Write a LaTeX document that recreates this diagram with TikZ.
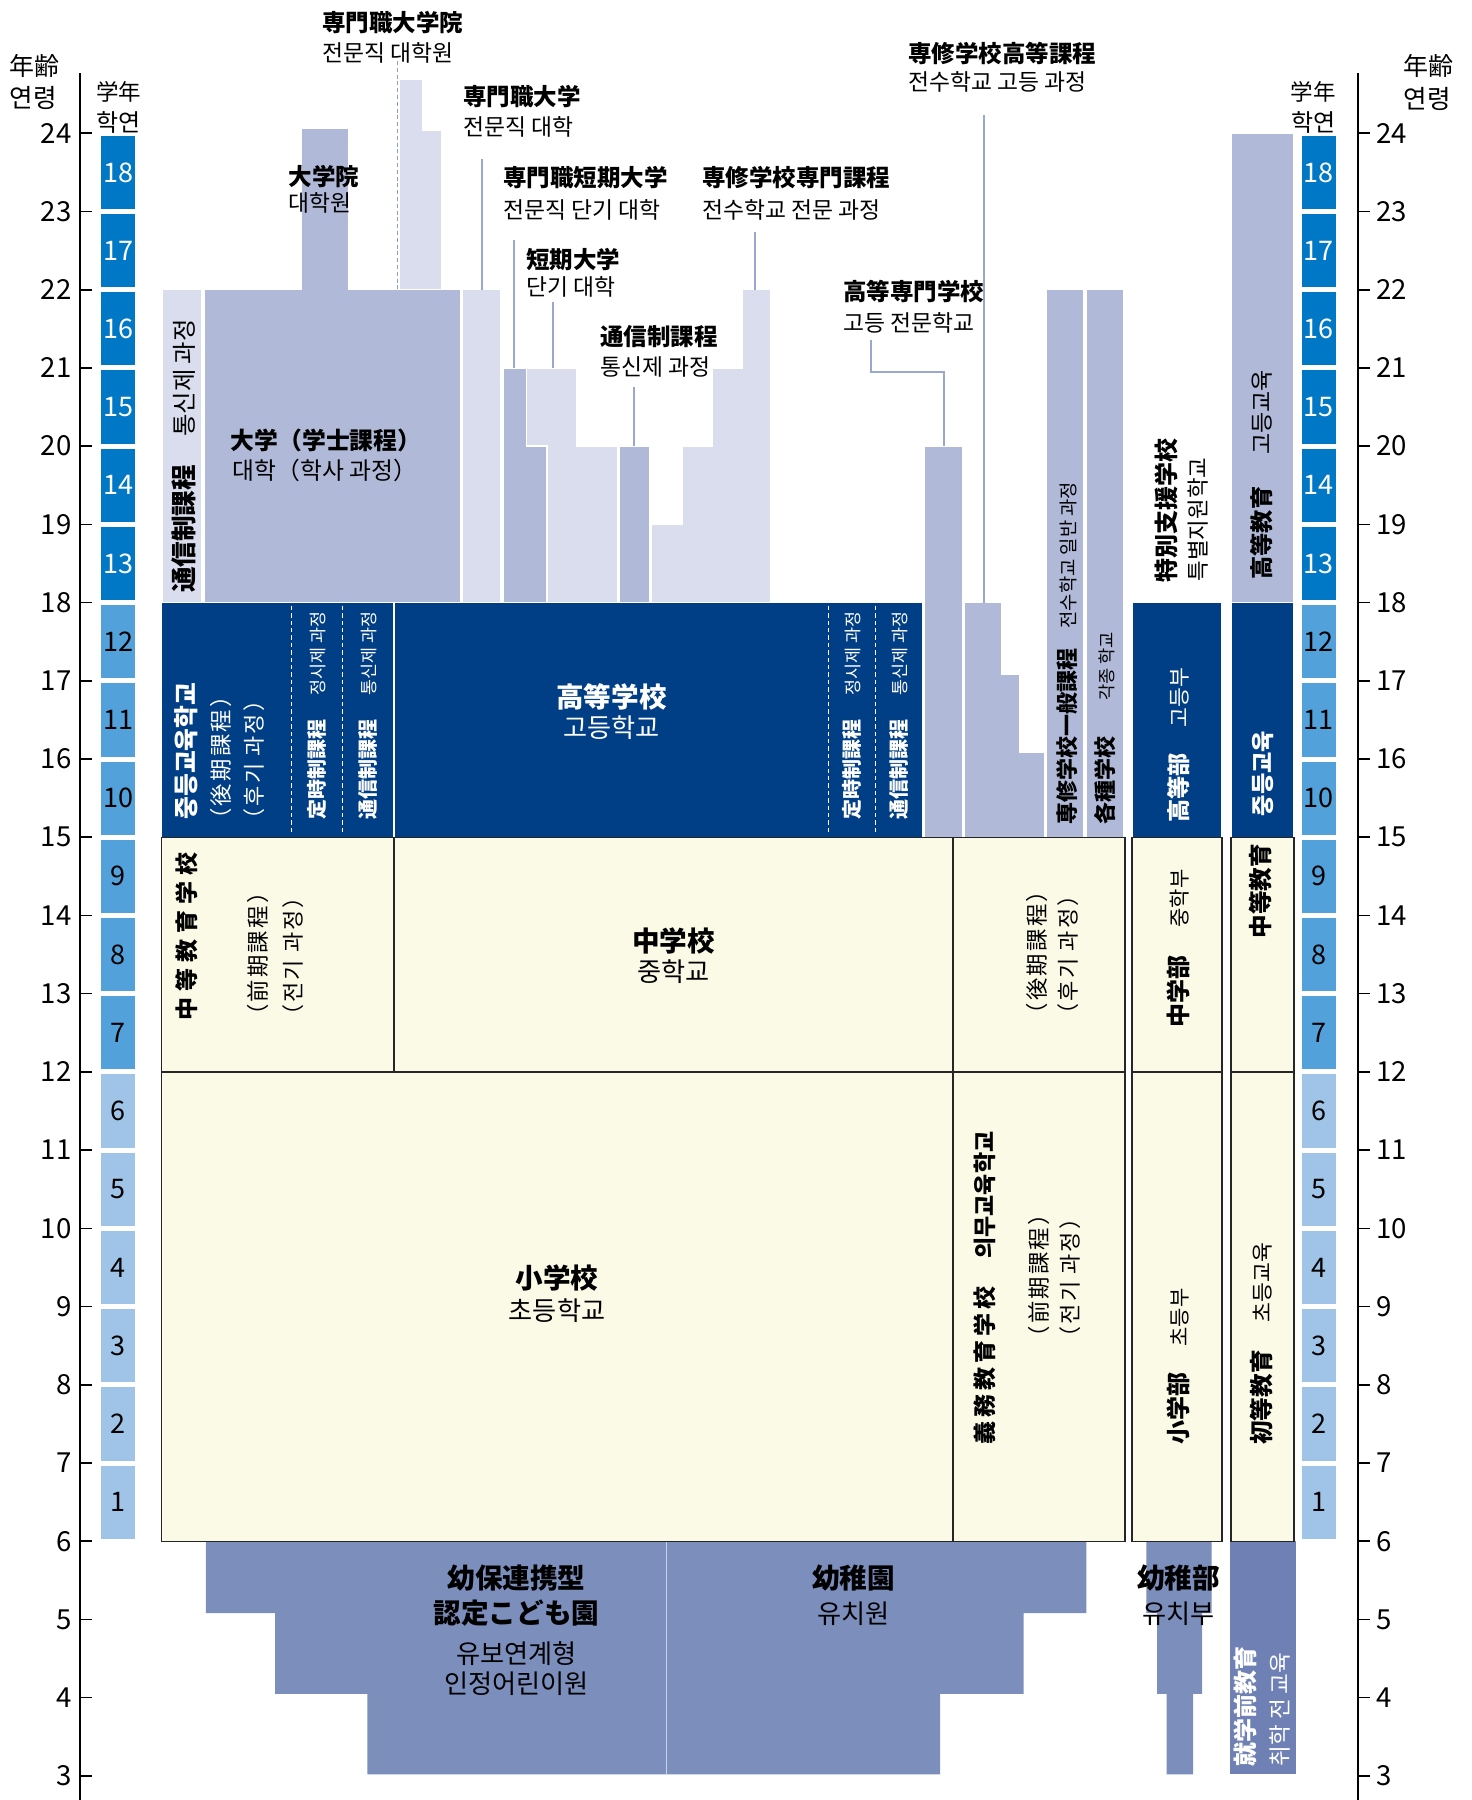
\documentclass[tikz,border=0pt]{standalone}
\usepackage{fontspec}
\setmainfont{Noto Sans CJK JP}
\newfontfamily\kr{Noto Sans CJK KR}
\newcommand\myfs[1]{\fontsize{#1}{#1}\selectfont}
\newcommand\js{\kern1.1pt}
\newcommand\ks{\kern1.1pt}
\definecolor{gdark}{HTML}{0078C6}
\definecolor{gmid}{HTML}{52A1DA}
\definecolor{glight}{HTML}{9FC4E8}
\definecolor{lav}{HTML}{D9DDEE}
\definecolor{lavm}{HTML}{B0B9D7}
\definecolor{navy}{HTML}{003E85}
\definecolor{cream}{HTML}{FBFAE7}
\definecolor{pre}{HTML}{7B8EBC}
\definecolor{pred}{HTML}{6F81B4}
\definecolor{lead}{HTML}{9AA7CF}
\definecolor{dashc}{HTML}{8C9CCC}
\begin{document}
\begin{tikzpicture}[x=0.5pt,y=39.11pt,
  every node/.style={inner sep=0pt},
  lv/.style={fill=lav,draw=white,line width=0.75pt},
  lm/.style={fill=lavm,draw=white,line width=0.75pt},
  nv/.style={fill=navy,draw=white,line width=0.6pt},
  yb/.style={fill=cream,draw=black!85,line width=0.65pt},
  wd/.style={draw=white,line width=0.7pt,dash pattern=on 2.2pt off 1.5pt},
  ld/.style={draw=lead,line width=0.9pt},
  tk/.style={line width=0.8pt},
  hl/.style={anchor=west},
  rl/.style={rotate=90,anchor=west},
  bj/.style={font=\bfseries\myfs{11.75pt}},
  kj/.style={font=\kr\myfs{11.4pt}},
  bigb/.style={font=\bfseries\myfs{13.8pt}},
  bigk/.style={font=\kr\myfs{13.1pt}},
  pj/.style={font=\myfs{11.2pt}},
  pk/.style={font=\kr\myfs{11pt}},
]
\useasboundingbox (0,2.692) rectangle (1472,25.704);

% ---------- axes ----------
\draw[line width=1pt] (80,24.77) -- (80,2.692);
\draw[line width=1pt] (1358,24.77) -- (1358,2.692);
\foreach \a in {3,...,24}{
  \draw[tk] (80,\a) -- (92,\a);
  \draw[tk] (1358,\a) -- (1370,\a);
  \node[anchor=east,font=\myfs{13.8pt}] (al\a) at (72,\a) {\a};
  \node[anchor=west,font=\myfs{13.8pt}] (ar\a) at (1376,\a) {\a};
}
\node[hl,font=\myfs{12.5pt}] (agel) at (9.3,24.863) {年齢};
\node[hl,font=\kr\myfs{12.8pt}] (agelk) at (9.3,24.454) {연령};
\node[hl,font=\myfs{11.25pt}] (grl) at (96,24.532) {学年};
\node[hl,font=\kr\myfs{12pt}] (grlk) at (96,24.138) {학연};
\node[hl,font=\myfs{12.5pt}] (ager) at (1403.5,24.863) {年齢};
\node[hl,font=\kr\myfs{12.8pt}] (agerk) at (1403.5,24.438) {연령};
\node[anchor=east,font=\myfs{11.25pt}] (grr) at (1336,24.532) {学年};
\node[anchor=east,font=\kr\myfs{12pt}] (grrk) at (1336,24.138) {학연};

% ---------- grade bars ----------
\foreach \g/\c/\t in {1/glight/black,2/glight/black,3/glight/black,4/glight/black,5/glight/black,6/glight/black,
  7/gmid/black,8/gmid/black,9/gmid/black,10/gmid/black,11/gmid/black,12/gmid/black,
  13/gdark/white,14/gdark/white,15/gdark/white,16/gdark/white,17/gdark/white,18/gdark/white}{
  \fill[\c] (101,\g+5.032) rectangle (135,\g+5.968);
  \fill[\c] (1301.7,\g+5.032) rectangle (1336,\g+5.968);
  \node[font=\myfs{13.5pt},text=\t] (gl\g) at (118,\g+5.5) {\g};
  \node[font=\myfs{13.5pt},text=\t] (gr\g) at (1318.9,\g+5.5) {\g};
}

% ---------- higher education ----------
\filldraw[lv] (162.4,18) rectangle (201.8,22);
\filldraw[lm] (203.9,18) -- (203.9,22) -- (301.7,22) -- (301.7,24.07) -- (349,24.07) -- (349,22) -- (460.9,22) -- (460.9,18) -- cycle;
\filldraw[lv] (399,22) -- (399,24.69) -- (422.7,24.69) -- (422.7,24.04) -- (441.7,24.04) -- (441.7,22) -- cycle;
\filldraw[lv] (462.7,18) rectangle (501,22);
\filldraw[lm] (502.8,18) -- (502.8,21) -- (526.4,21) -- (526.4,20) -- (547.2,20) -- (547.2,18) -- cycle;
\filldraw[lv] (526.4,21) -- (577,21) -- (577,20) -- (618,20) -- (618,18) -- (547.2,18) -- (547.2,20) -- (526.4,20) -- cycle;
\filldraw[lm] (619,18) rectangle (650,20);
\filldraw[lv] (651.7,18) -- (651.7,19) -- (682,19) -- (682,20) -- (712,20) -- (712,21) -- (742,21) -- (742,22) -- (771,22) -- (771,18) -- cycle;
\filldraw[lm] (924,15) rectangle (963,20);
\filldraw[lm] (964.5,15) -- (964.5,18) -- (1001.4,18) -- (1001.4,17.08) -- (1019.7,17.08) -- (1019.7,16.09) -- (1045.2,16.09) -- (1045.2,15) -- cycle;
\filldraw[lm] (1046,15) rectangle (1084,22);
\filldraw[lm] (1086,15) rectangle (1124,22);
\filldraw[lm] (1231,18) rectangle (1293.5,24);

\coordinate (dsa) at (397.3,24.924);
\coordinate (dsb) at (397.3,22);
\draw[dashc,line width=0.75pt,dash pattern=on 2pt off 1.4pt] (dsa) -- (dsb);

% ---------- upper secondary (navy) ----------
\filldraw[nv] (161.2,15) rectangle (393.9,18);
\filldraw[nv] (393.9,15) rectangle (922.7,18);
\filldraw[nv] (1132,15) rectangle (1222,18);
\filldraw[nv] (1231,15) rectangle (1293.5,18);
\foreach \xx in {291.3,342.3,828.6,875.5}{
  \draw[wd] (\xx,17.96) -- (\xx,15.07);
}

% ---------- pre-school ----------
\fill[pre] (205.8,6) -- (666.5,6) -- (666.5,3.02) -- (367.4,3.02) -- (367.4,4.05) -- (275,4.05) -- (275,5.08) -- (205.8,5.08) -- cycle;
\fill[pre] (666.5,6) -- (1086.3,6) -- (1086.3,5.08) -- (1023.7,5.08) -- (1023.7,4.05) -- (940.2,4.05) -- (940.2,3.02) -- (666.5,3.02) -- cycle;
\draw[white!60!pre,line width=0.6pt] (666.5,5.99) -- (666.5,3.02);
\fill[pre] (1146.3,6) -- (1211.5,6) -- (1211.5,5.08) -- (1202,5.08) -- (1202,4.05) -- (1193,4.05) -- (1193,3.02) -- (1166.5,3.02) -- (1166.5,4.05) -- (1157,4.05) -- (1157,5.08) -- (1146.3,5.08) -- cycle;
\fill[pred] (1229.5,3.02) rectangle (1296,6);

% ---------- compulsory (cream) ----------
\filldraw[yb] (161.5,12) rectangle (394,15);
\filldraw[yb] (394,12) rectangle (953,15);
\filldraw[yb] (161.5,6) rectangle (953,12);
\filldraw[yb] (953,12) rectangle (1125,15);
\filldraw[yb] (953,6) rectangle (1125,12);
\filldraw[yb] (1132,12) rectangle (1222,15);
\filldraw[yb] (1132,6) rectangle (1222,12);
\filldraw[yb] (1231,12) rectangle (1294,15);
\filldraw[yb] (1231,6) rectangle (1294,12);

% ---------- leaders ----------
\coordinate (a1) at (482,23.668);   \coordinate (b1) at (482,22);
\coordinate (a2) at (514.3,22.636); \coordinate (b2) at (514.3,21);
\coordinate (a3) at (553.3,21.847); \coordinate (b3) at (553.3,21);
\coordinate (a4) at (634.3,20.753); \coordinate (b4) at (634.3,20);
\coordinate (a5) at (755.2,22.734); \coordinate (b5) at (755.2,22);
\coordinate (a6) at (870.8,21.357); \coordinate (b6) at (943.7,20);
\coordinate (a7) at (984.3,24.234); \coordinate (b7) at (984.3,18);
\draw[ld] (a1) -- (b1);
\draw[ld] (a2) -- (b2);
\draw[ld] (a3) -- (b3);
\draw[ld] (a4) -- (b4);
\draw[ld] (a5) -- (b5);
\draw[ld] (a6) |- (943.7,20.952) -- (b6);
\draw[ld] (a7) -- (b7);

% ---------- top labels ----------
\node[hl,bj] (n1) at (321.7,25.416) {専門職大学院};
\node[hl,kj] (n1k) at (321.7,25.026) {전문직 대학원};
\node[hl,bj] (n2) at (288.3,23.445) {大学院};
\node[hl,kj] (n2k) at (288.3,23.109) {대학원};
\node[hl,bj] (n3) at (462.7,24.464) {専門職大学};
\node[hl,kj] (n3k) at (462.7,24.080) {전문직 대학};
\node[hl,bj] (n4) at (502.7,23.428) {専門職短期大学};
\node[hl,kj] (n4k) at (502.7,23.019) {전문직 단기 대학};
\node[hl,bj] (n5) at (525.7,22.389) {短期大学};
\node[hl,kj] (n5k) at (525.7,22.039) {단기 대학};
\node[hl,bj] (n6) at (701.7,23.428) {専修学校専門課程};
\node[hl,kj] (n6k) at (701.7,23.019) {전수학교 전문 과정};
\node[hl,bj] (n7) at (600,21.400) {通信制課程};
\node[hl,kj] (n7k) at (600,21.016) {통신제 과정};
\node[hl,bj] (n8) at (843,21.975) {高等専門学校};
\node[hl,kj] (n8k) at (843,21.581) {고등 전문학교};
\node[hl,bj] (n9) at (908,25.017) {専修学校高等課程};
\node[hl,kj] (n9k) at (908,24.660) {전수학교 고등 과정};
\node[font=\bfseries\myfs{11.9pt}] (n10) at (326,20.069) {大学（学士課程）};
\node[font=\kr\myfs{11.9pt}] (n10k) at (325,19.695) {대학（학사 과정）};

% ---------- big horizontal labels ----------
\node[bigb,text=white] (hs) at (611.5,16.797) {高等学校};
\node[bigk,text=white] (hsk) at (611.5,16.403) {고등학교};
\node[bigb] (js) at (673.5,13.68) {中学校};
\node[bigk] (jsk) at (673.5,13.28) {중학교};
\node[bigb] (es) at (557,9.366) {小学校};
\node[bigk] (esk) at (557,8.944) {초등학교};
\node[bigb] (kc1) at (516.5,5.526) {幼保連携型};
\node[bigb] (kc2) at (516.5,5.079) {認定こども園};
\node[bigk] (kc3) at (516.5,4.558) {유보연계형};
\node[bigk] (kc4) at (516.5,4.177) {인정어린이원};
\node[bigb] (kg) at (853.6,5.526) {幼稚園};
\node[bigk] (kgk) at (853.6,5.079) {유치원};
\node[bigb] (kd) at (1178.7,5.526) {幼稚部};
\node[bigk] (kdk) at (1178.7,5.079) {유치부};

% ---------- rotated labels ----------
\node[rl] (r1) at (184,18.12) {{\bfseries\myfs{12.8pt}通信制課程}\hspace{14pt}{\kr\myfs{12.2pt}통신제 과정}};
\node[rl,text=white,font=\kr\bfseries\myfs{12.4pt}] (r2) at (185.7,15.221) {중등교육학교};
\node[rl,text=white,pj] (r3) at (221.4,15.08) {（\js 後\js 期\js 課\js 程\js ）};
\node[rl,text=white,pk] (r4) at (254.6,15.08) {（\ks 후\ks 기\ks{} 과\ks 정\ks ）};
\node[rl,text=white] (r5) at (316.8,15.221) {{\bfseries\myfs{10pt}定時制課程}\hspace{12pt}{\kr\myfs{8.7pt}정시제 과정}};
\node[rl,text=white] (r6) at (368,15.221) {{\bfseries\myfs{10pt}通信制課程}\hspace{12pt}{\kr\myfs{8.7pt}통신제 과정}};
\node[rl,text=white] (r7) at (852,15.221) {{\bfseries\myfs{10pt}定時制課程}\hspace{12pt}{\kr\myfs{8.7pt}정시제 과정}};
\node[rl,text=white] (r8) at (899,15.221) {{\bfseries\myfs{10pt}通信制課程}\hspace{12pt}{\kr\myfs{8.7pt}통신제 과정}};
\node[rl] (r9) at (1066.9,15.157) {{\bfseries\myfs{11pt}専修学校一般課程}\hspace{10pt}{\kr\myfs{9.4pt}전수학교 일반 과정}};
\node[rl] (r10) at (1105.2,15.157) {{\bfseries\myfs{11pt}各種学校}\hspace{18pt}{\kr\myfs{8.8pt}각종 학교}};
\node[rl,font=\bfseries\myfs{12pt}] (r11) at (1166.7,18.247) {特別支援学校};
\node[rl,font=\kr\myfs{11.2pt}] (r12) at (1198.3,18.267) {특별지원학교};
\node[rl] (r13) at (1261.7,18.289) {{\bfseries\myfs{11.6pt}高等教育}\hspace{16pt}{\kr\myfs{11.5pt}고등교육}};
\node[rl,text=white] (r14) at (1178.2,15.179) {{\bfseries\myfs{11.6pt}高等部}\hspace{13pt}{\kr\myfs{10.8pt}고등부}};
\node[rl,text=white,font=\kr\bfseries\myfs{11.6pt}] (r15) at (1263,15.263) {중등교육};
\node[rl,font=\bfseries\myfs{11.5pt}] (r16) at (186.7,12.65) {中\kern3pt 等\kern3pt 教\kern3pt 育\kern3pt 学\kern3pt 校};
\node[rl,pj] (r17) at (258.4,12.57) {（\js 前\js 期\js 課\js 程\js ）};
\node[rl,pk] (r18) at (293.5,12.57) {（\ks 전\ks 기\ks{} 과\ks 정\ks ）};
\node[rl,pj] (r19) at (1036.5,12.59) {（\js 後\js 期\js 課\js 程\js ）};
\node[rl,pk] (r20) at (1068.4,12.59) {（\ks 후\ks 기\ks{} 과\ks 정\ks ）};
\node[rl] (r21) at (984.8,7.230) {{\bfseries\myfs{11.5pt}義\kern2pt 務\kern2pt 教\kern2pt 育\kern2pt 学\kern2pt 校}\hspace{14pt}{\kr\bfseries\myfs{11.5pt}의무교육학교}};
\node[rl,pj] (r22) at (1038.6,8.458) {（\js 前\js 期\js 課\js 程\js ）};
\node[rl,pk] (r23) at (1070.6,8.458) {（\ks 전\ks 기\ks{} 과\ks 정\ks ）};
\node[rl] (r24) at (1178.2,7.230) {{\bfseries\myfs{12pt}小学部}\hspace{13pt}{\kr\myfs{10.5pt}초등부}};
\node[rl] (r25) at (1178.2,12.562) {{\bfseries\myfs{12pt}中学部}\hspace{14pt}{\kr\myfs{10.5pt}중학부}};
\node[rl] (r26) at (1261.2,7.230) {{\bfseries\myfs{11.8pt}初等教育}\hspace{14pt}{\kr\myfs{10.8pt}초등교육}};
\node[rl,font=\bfseries\myfs{11.8pt}] (r27) at (1260.7,13.700) {中等教育};
\node[rl,text=white,font=\bfseries\myfs{12pt}] (r28) at (1245.8,3.114) {就学前教育};
\node[rl,text=white,font=\kr\myfs{11.3pt}] (r29) at (1280,3.114) {취학 전 교육};
\end{tikzpicture}
\end{document}
